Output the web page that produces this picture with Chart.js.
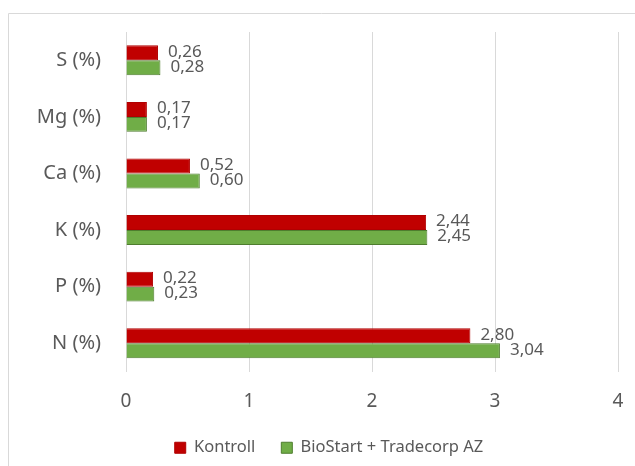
<!DOCTYPE html>
<html><head><meta charset="utf-8">
<script src="https://cdn.jsdelivr.net/npm/chart.js@4/dist/chart.umd.min.js"></script>
<style>html,body{margin:0;padding:0;background:#fff;}#wrap{width:635px;height:466px;}</style>
</head><body><div id="wrap"><canvas id="c" width="635" height="466"></canvas></div>
<script>
const categories = ['S (%)', 'Mg (%)', 'Ca (%)', 'K (%)', 'P (%)', 'N (%)'];
const kontroll = [0.26, 0.17, 0.52, 2.44, 0.22, 2.80];
const biostart = [0.28, 0.17, 0.60, 2.45, 0.23, 3.04];
const seriesNames = ['Kontroll', 'BioStart + Tradecorp AZ'];
const xTicks = [0, 1, 2, 3, 4];

const FONT = 'Noto Sans';
const TXT = '#595959';

const framePlugin = {
  id: 'frame',
  beforeDraw(chart) {
    const ctx = chart.ctx;
    ctx.save();
    ctx.strokeStyle = '#d9d9d9';
    ctx.lineWidth = 1;
    ctx.beginPath();
    ctx.moveTo(8.5, 466);
    ctx.lineTo(8.5, 13.5);
    ctx.lineTo(635, 13.5);
    ctx.stroke();
    ctx.restore();
  }
};

const labelPlugin = {
  id: 'vals',
  afterDatasetsDraw(chart) {
    const ctx = chart.ctx;
    ctx.save();
    ctx.font = '17px "' + FONT + '"';
    ctx.fillStyle = TXT;
    ctx.textAlign = 'left';
    ctx.textBaseline = 'middle';
    chart.data.datasets.forEach((ds, di) => {
      const meta = chart.getDatasetMeta(di);
      meta.data.forEach((bar, i) => {
        const txt = ds.data[i].toFixed(2).replace('.', ',');
        ctx.fillText(txt, bar.x + 10, bar.y - 1);
      });
    });
    ctx.restore();
  }
};

new Chart(document.getElementById('c'), {
  type: 'bar',
  data: {
    labels: categories,
    datasets: [
      { label: seriesNames[0], data: kontroll, backgroundColor: '#c00000', borderColor: '#b00000', borderWidth: 1 },
      { label: seriesNames[1], data: biostart, backgroundColor: '#70ad47', borderColor: '#4e7d2e', borderWidth: 1 }
    ]
  },
  options: {
    indexAxis: 'y',
    responsive: false,
    animation: false,
    devicePixelRatio: 1,
    layout: { padding: { top: 32, left: 40, right: 17, bottom: 0 } },
    datasets: { bar: { categoryPercentage: 0.53, barPercentage: 1.0 } },
    scales: {
      x: {
        min: 0, max: 4,
        afterBuildTicks(s) { s.ticks = xTicks.map(v => ({ value: v })); },
        grid: { color: '#d9d9d9', drawTicks: false, lineWidth: 1 },
        border: { display: false },
        ticks: { color: TXT, font: { family: FONT, size: 19 }, padding: 19 },
        afterFit(s) { s.height = 42; s.paddingLeft = 0; s.paddingRight = 0; }
      },
      y: {
        grid: { display: false, drawTicks: false },
        border: { display: true, color: '#d9d9d9' },
        ticks: { color: TXT, font: { family: FONT, size: 20 }, padding: 25 },
        afterFit(s) { s.width = 86; s.paddingTop = 0; s.paddingBottom = 0; },
        afterUpdate(s) { s._computeLabelArea = () => undefined; }
      }
    },
    plugins: {
      legend: {
        position: 'bottom',
        labels: {
          color: TXT,
          font: { family: FONT, size: 16.5 },
          boxWidth: 11, boxHeight: 11,
          padding: 26
        }
      },
      tooltip: { enabled: false }
    }
  },
  plugins: [framePlugin, labelPlugin]
});
</script></body></html>
